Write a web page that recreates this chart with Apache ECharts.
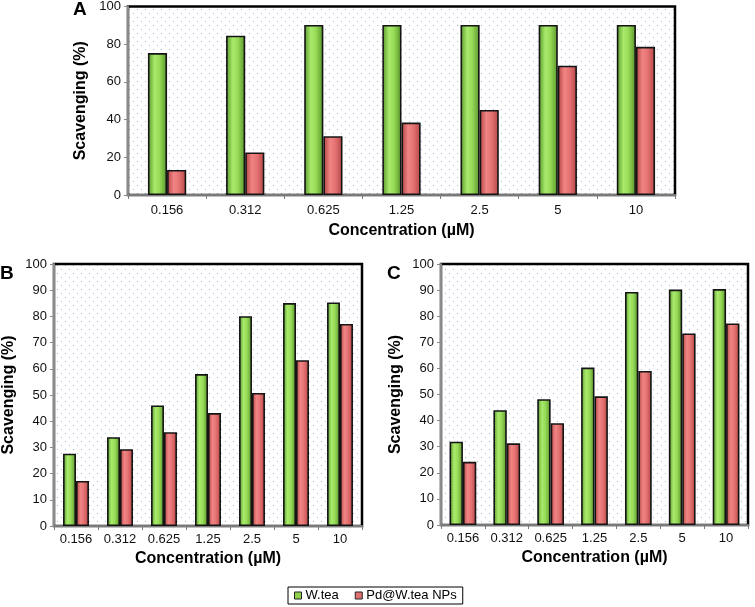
<!DOCTYPE html>
<html><head><meta charset="utf-8">
<script src="https://cdn.jsdelivr.net/npm/echarts@6/dist/echarts.min.js"></script>
<style>html,body{margin:0;padding:0;background:#fff}#c{width:755px;height:607px}</style>
</head><body><div id="c"></div>
<script>
const categories = ['0.156','0.312','0.625','1.25','2.5','5','10'];
const seriesNames = ['W.tea','Pd@W.tea NPs'];
const aTea = [75.3, 84.5, 90.2, 90.2, 90.2, 90.2, 90.2];
const aPd  = [13.3, 22.6, 31.2, 38.4, 45.1, 68.6, 78.6];
const bTea = [27.6, 33.9, 46.0, 58.0, 80.1, 85.1, 85.3];
const bPd  = [17.2, 29.3, 35.8, 43.1, 50.8, 63.3, 77.1];
const cTea = [31.9, 44.0, 48.2, 60.3, 89.3, 90.2, 90.4];
const cPd  = [24.2, 31.3, 39.0, 49.3, 59.0, 73.4, 77.2];

const FONT = 'Liberation Sans, Arial, sans-serif';
const cv = document.createElement('canvas'); cv.width = 8; cv.height = 8;
const cx = cv.getContext('2d');
cx.fillStyle = '#ffffff'; cx.fillRect(0,0,8,8);
cx.fillStyle = '#a4bad8';
cx.fillRect(1,1,1,1); cx.fillRect(5,5,1,1);
const bgPattern = {image: cv, repeat: 'repeat'};

const greenGrad = new echarts.graphic.LinearGradient(0,0,1,0,[
  {offset:0,color:'#56962a'},{offset:0.35,color:'#a9ea6c'},{offset:0.6,color:'#98dc58'},{offset:1,color:'#58942a'}]);
const redGrad = new echarts.graphic.LinearGradient(0,0,1,0,[
  {offset:0,color:'#b44242'},{offset:0.35,color:'#f08484'},{offset:0.6,color:'#e67474'},{offset:1,color:'#b44646'}]);

const grids = [
  {left:128, top:5, width:547, height:190},
  {left:52, top:264, width:310, height:262},
  {left:441, top:264, width:307, height:261}
];
const intervals = [20,10,10];
const xMargins = [9,7,7];
const xNameGaps = [28,25,25];
const gapPct = ['51%','41%','39%'];
const data = [[aTea,aPd],[bTea,bPd],[cTea,cPd]];

const option = {
  animation:false,
  grid: grids.map(g => Object.assign({show:true, borderColor:'#000', borderWidth:2.5, backgroundColor:bgPattern}, g)),
  xAxis: grids.map((g,i) => ({
    type:'category', gridIndex:i, data:categories,
    name:'Concentration (µM)', nameLocation:'middle', nameGap:xNameGaps[i],
    nameTextStyle:{fontFamily:FONT, fontSize:16, fontWeight:'bold', color:'#000'},
    axisLine:{show:true, lineStyle:{color:'#7a7a7a', width:2}},
    axisTick:{show:true, alignWithLabel:false, length:4, lineStyle:{color:'#7a7a7a'}},
    axisLabel:{fontFamily:FONT, fontSize:13, color:'#111', margin:xMargins[i]},
    splitLine:{show:false}
  })),
  yAxis: grids.map((g,i) => ({
    type:'value', gridIndex:i, min:0, max:100, interval:intervals[i],
    name:'Scavenging (%)', nameLocation:'middle', nameGap:37,
    nameTextStyle:{fontFamily:FONT, fontSize:16, fontWeight:'bold', color:'#000'},
    axisLine:{show:true, lineStyle:{color:'#8a8a8a', width:2}},
    axisTick:{show:true, length:4, lineStyle:{color:'#8a8a8a'}},
    axisLabel:{fontFamily:FONT, fontSize:13, color:'#111', margin:7},
    splitLine:{show:false}
  })),
  legend: {
    left:288, top:587, padding:[2,6,2,6], itemGap:16,
    borderColor:'#000', borderWidth:1,
    itemWidth:7, itemHeight:7,
    textStyle:{fontFamily:FONT, fontSize:13, color:'#000', padding:[0,0,0,-1]},
    data:[
      {name:seriesNames[0], icon:'rect', itemStyle:{color:'#8fd04e', borderColor:'#222', borderWidth:1}},
      {name:seriesNames[1], icon:'rect', itemStyle:{color:'#e07070', borderColor:'#222', borderWidth:1}}
    ]
  },
  graphic: [
    {type:'text', left:73, top:0, style:{text:'A', font:'bold 19px '+FONT, fill:'#000'}},
    {type:'text', left:0, top:264, style:{text:'B', font:'bold 19px '+FONT, fill:'#000'}},
    {type:'text', left:387, top:264, style:{text:'C', font:'bold 19px '+FONT, fill:'#000'}}
  ],
  series: []
};
data.forEach((pair,i) => {
  option.series.push({
    type:'bar', name:seriesNames[0], xAxisIndex:i, yAxisIndex:i, data:pair[0],
    barGap:'0%', barCategoryGap:gapPct[i],
    itemStyle:{color:greenGrad, borderColor:'#141414', borderWidth:1.6}
  });
  option.series.push({
    type:'bar', name:seriesNames[1], xAxisIndex:i, yAxisIndex:i, data:pair[1],
    barGap:'0%', barCategoryGap:gapPct[i],
    itemStyle:{color:redGrad, borderColor:'#141414', borderWidth:1.6}
  });
});
const chart = echarts.init(document.getElementById('c'), null, {renderer:'canvas'});
chart.setOption(option);
</script></body></html>
